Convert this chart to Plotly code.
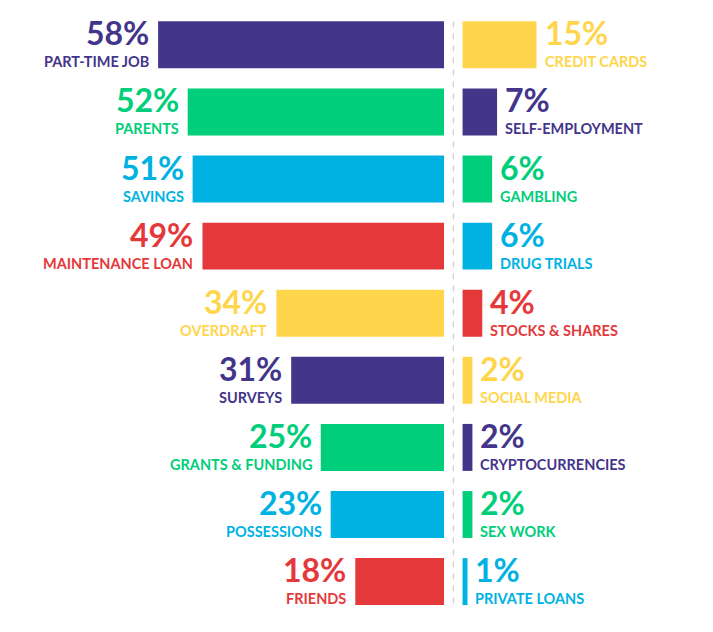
import plotly.graph_objects as go

left_cats = ["PART-TIME JOB", "PARENTS", "SAVINGS", "MAINTENANCE LOAN", "OVERDRAFT",
             "SURVEYS", "GRANTS & FUNDING", "POSSESSIONS", "FRIENDS"]
left_vals = [58, 52, 51, 49, 34, 31, 25, 23, 18]
right_cats = ["CREDIT CARDS", "SELF-EMPLOYMENT", "GAMBLING", "DRUG TRIALS", "STOCKS & SHARES",
              "SOCIAL MEDIA", "CRYPTOCURRENCIES", "SEX WORK", "PRIVATE LOANS"]
right_vals = [15, 7, 6, 6, 4, 2, 2, 2, 1]

PURPLE = "#43358A"
GREEN = "#00CE7A"
BLUE = "#00B2E2"
RED = "#E5383A"
YELLOW = "#FFD54C"
left_colors = [PURPLE, GREEN, BLUE, RED, YELLOW, PURPLE, GREEN, BLUE, RED]
right_colors = [YELLOW, PURPLE, GREEN, BLUE, RED, YELLOW, PURPLE, GREEN, BLUE]

GAP = 1.88
rows = list(range(len(left_vals)))

fig = go.Figure()
fig.add_trace(go.Bar(
    y=rows, x=[-v for v in left_vals], base=[-GAP] * len(rows), orientation="h",
    marker=dict(color=left_colors, line=dict(width=0)), width=0.70, hoverinfo="skip"))
fig.add_trace(go.Bar(
    y=rows, x=right_vals, base=[GAP] * len(rows), orientation="h",
    marker=dict(color=right_colors, line=dict(width=0)), width=0.70, hoverinfo="skip"))

FONT = "Lato"
ann = []
for i, (c, v, col) in enumerate(zip(left_cats, left_vals, left_colors)):
    ann.append(dict(x=-(GAP + v), y=i, xref="x", yref="y", text=f"{v}%", showarrow=False,
                    xanchor="right", yanchor="middle", xshift=-7, yshift=12,
                    font=dict(family=FONT, size=32, color=col, weight=700)))
    ann.append(dict(x=-(GAP + v), y=i, xref="x", yref="y", text=c, showarrow=False,
                    xanchor="right", yanchor="middle", xshift=-7, yshift=-17,
                    font=dict(family=FONT, size=14.5, color=col, weight=700)))
for i, (c, v, col) in enumerate(zip(right_cats, right_vals, right_colors)):
    ann.append(dict(x=GAP + v, y=i, xref="x", yref="y", text=f"{v}%", showarrow=False,
                    xanchor="left", yanchor="middle", xshift=6, yshift=12,
                    font=dict(family=FONT, size=32, color=col, weight=700)))
    ann.append(dict(x=GAP + v, y=i, xref="x", yref="y", text=c, showarrow=False,
                    xanchor="left", yanchor="middle", xshift=6, yshift=-17,
                    font=dict(family=FONT, size=14.5, color=col, weight=700)))

fig.add_shape(type="line", x0=0, x1=0, y0=-0.35, y1=8.35, xref="x", yref="y",
              line=dict(color="#C8C4C4", width=1, dash="6px,6px"))

fig.update_layout(
    width=713, height=632, margin=dict(l=0, r=0, t=0, b=0),
    paper_bgcolor="white", plot_bgcolor="white", showlegend=False, barmode="overlay",
    annotations=ann,
    xaxis=dict(range=[-91.95, 52.68], visible=False, fixedrange=True),
    yaxis=dict(range=[8.751, -0.668], visible=False, fixedrange=True),
)
fig.write_html("out.html")
